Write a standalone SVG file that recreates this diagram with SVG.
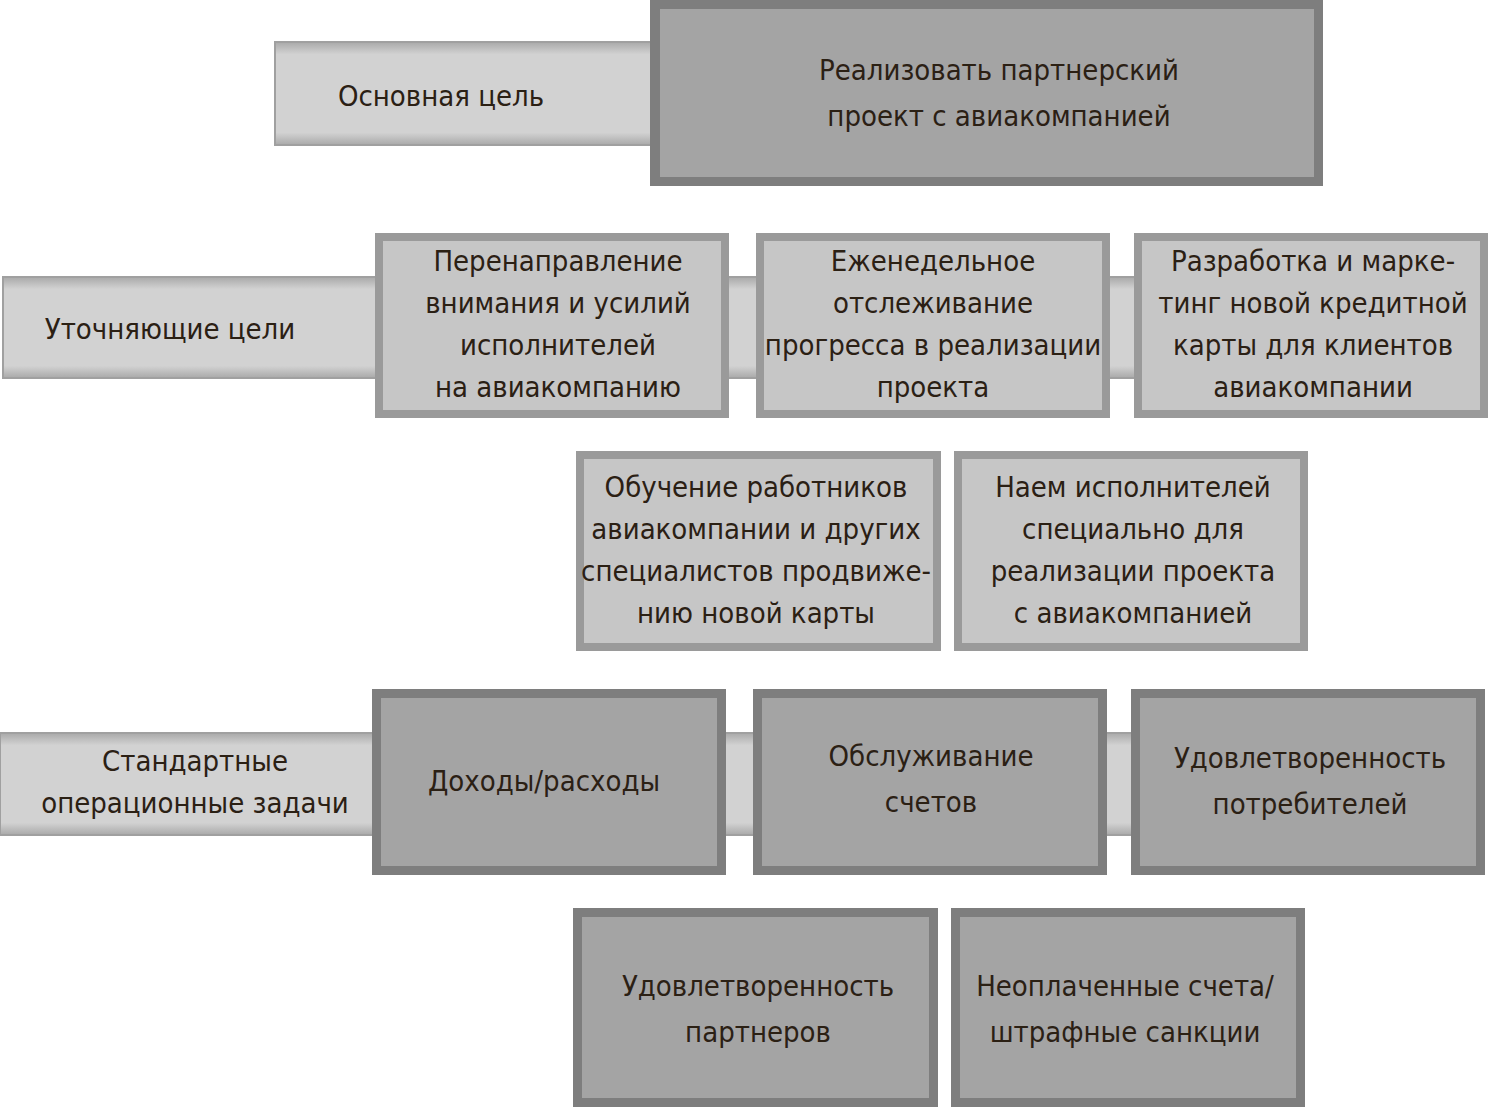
<svg xmlns="http://www.w3.org/2000/svg" width="1489" height="1109" viewBox="0 0 1489 1109">
<defs>
<linearGradient id="bar" x1="0" y1="0" x2="0" y2="1"><stop offset="0" stop-color="#a9a9a9"/><stop offset="0.12" stop-color="#d2d2d2"/><stop offset="0.88" stop-color="#d2d2d2"/><stop offset="1" stop-color="#a9a9a9"/></linearGradient>
</defs>
<style>
text{font-family:"DejaVu Sans Condensed","DejaVu Sans",sans-serif;font-stretch:condensed;font-size:29px;fill:#2b2014;text-anchor:middle}
.dk .o{fill:#7e7e7e}.dk .i{fill:#a4a4a4}
.lt .o{fill:#9a9a9a}.lt .i{fill:#c6c6c6}
.bar{fill:url(#bar);stroke:#a0a0a0;stroke-width:2}
</style>
<g id="connectors">
<rect class="bar" x="275" y="42" width="390" height="103"/>
<rect class="bar" x="3" y="277" width="1140" height="101"/>
<rect class="bar" x="0" y="733" width="1140" height="102"/>
</g>
<g id="bar-labels">
<text x="441" y="106">Основная цель</text>
<text x="170" y="339">Уточняющие цели</text>
<text x="195" y="771">Стандартные</text>
<text x="195" y="813">операционные задачи</text>
</g>
<g id="main" class="dk"><rect class="o" x="650" y="0" width="673" height="186"/><rect class="i" x="660" y="9" width="654" height="168"/>
<text x="999" y="80">Реализовать партнерский</text><text x="999" y="126">проект с авиакомпанией</text></g>
<g id="r1a" class="lt"><rect class="o" x="375" y="233" width="354" height="185"/><rect class="i" x="383" y="241" width="338" height="169"/>
<text x="558" y="271">Перенаправление</text><text x="558" y="313">внимания и усилий</text><text x="558" y="355">исполнителей</text><text x="558" y="397">на авиакомпанию</text></g>
<g id="r1b" class="lt"><rect class="o" x="756" y="233" width="354" height="185"/><rect class="i" x="764" y="241" width="338" height="169"/>
<text x="933" y="271">Еженедельное</text><text x="933" y="313">отслеживание</text><text x="933" y="355">прогресса в реализации</text><text x="933" y="397">проекта</text></g>
<g id="r1c" class="lt"><rect class="o" x="1134" y="233" width="354" height="185"/><rect class="i" x="1142" y="241" width="338" height="169"/>
<text x="1313" y="271">Разработка и марке-</text><text x="1313" y="313">тинг новой кредитной</text><text x="1313" y="355">карты для клиентов</text><text x="1313" y="397">авиакомпании</text></g>
<g id="r2a" class="lt"><rect class="o" x="576" y="451" width="365" height="200"/><rect class="i" x="584" y="459" width="349" height="184"/>
<text x="756" y="497">Обучение работников</text><text x="756" y="539">авиакомпании и других</text><text x="756" y="581">специалистов продвиже-</text><text x="756" y="623">нию новой карты</text></g>
<g id="r2b" class="lt"><rect class="o" x="954" y="451" width="354" height="200"/><rect class="i" x="962" y="459" width="338" height="184"/>
<text x="1133" y="497">Наем исполнителей</text><text x="1133" y="539">специально для</text><text x="1133" y="581">реализации проекта</text><text x="1133" y="623">с авиакомпанией</text></g>
<g id="r3a" class="dk"><rect class="o" x="372" y="689" width="354" height="186"/><rect class="i" x="381" y="698" width="336" height="168"/>
<text x="544" y="791">Доходы/расходы</text></g>
<g id="r3b" class="dk"><rect class="o" x="753" y="689" width="354" height="186"/><rect class="i" x="762" y="698" width="336" height="168"/>
<text x="931" y="766">Обслуживание</text><text x="931" y="812">счетов</text></g>
<g id="r3c" class="dk"><rect class="o" x="1131" y="689" width="354" height="186"/><rect class="i" x="1140" y="698" width="336" height="168"/>
<text x="1310" y="768">Удовлетворенность</text><text x="1310" y="814">потребителей</text></g>
<g id="r4a" class="dk"><rect class="o" x="573" y="908" width="365" height="199"/><rect class="i" x="582" y="917" width="347" height="181"/>
<text x="758" y="996">Удовлетворенность</text><text x="758" y="1042">партнеров</text></g>
<g id="r4b" class="dk"><rect class="o" x="951" y="908" width="354" height="199"/><rect class="i" x="960" y="917" width="336" height="181"/>
<text x="1125" y="996">Неоплаченные счета/</text><text x="1125" y="1042">штрафные санкции</text></g>
</svg>
